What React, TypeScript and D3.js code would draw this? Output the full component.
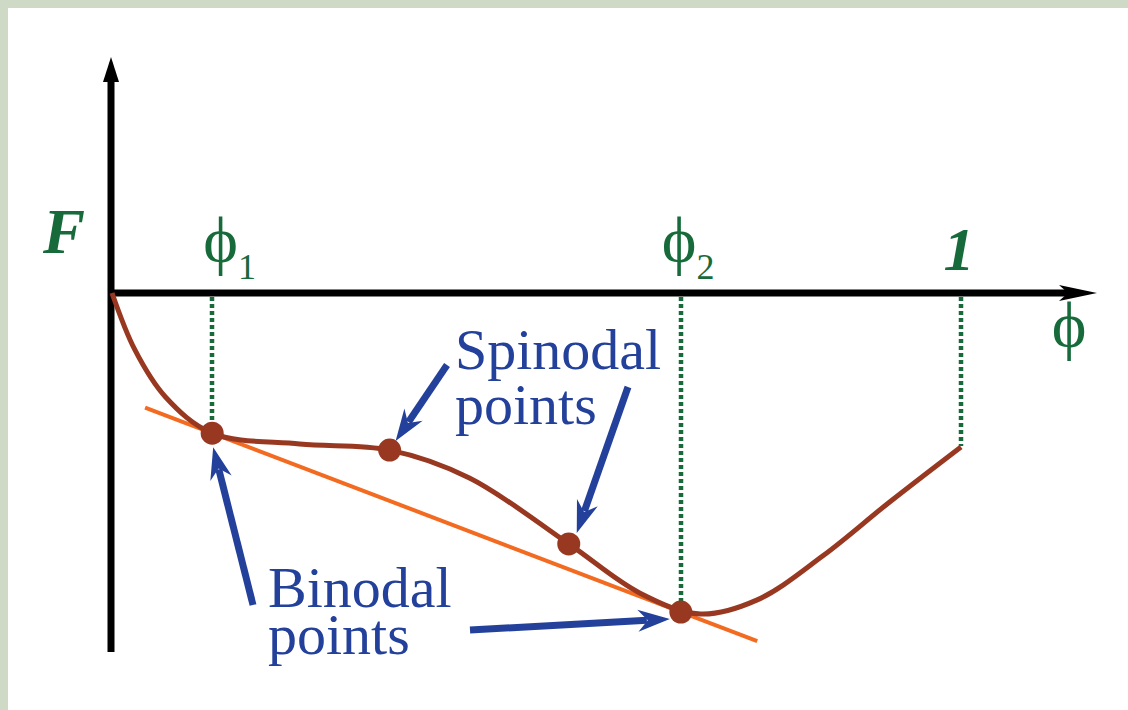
import React from "react";
import * as d3 from "d3";

// Free-energy curve F(φ) for a binary mixture
const curvePhi = [0, 0.027, 0.063, 0.118, 0.221, 0.327, 0.421, 0.538, 0.622, 0.693, 0.76, 0.837, 0.916, 1.0];
const curveF = [0, -0.178, -0.325, -0.438, -0.472, -0.491, -0.578, -0.784, -0.938, -1.003, -0.959, -0.822, -0.653, -0.481];

// Binodal (common tangent) and spinodal (inflection) compositions
const binodalPhi = [0.118, 0.67];
const binodalF = [-0.438, -0.997];
const spinodalPhi = [0.327, 0.538];
const spinodalF = [-0.491, -0.784];

// Extent of the drawn common tangent
const tangentPhi = [0.039, 0.76];

// Labelled compositions on the φ axis
const tickPhi = [0.118, 0.67, 1.0];
const tickF = [-0.438, -0.997, -0.481];
const tickSub = ["1", "2", null];
const tickDx = [-9, -19, -2];

const W = 1128;
const H = 710;

const GREEN = "#176b3b";
const BLUE = "#23419a";
const BROWN = "#983821";
const ORANGE = "#f36b21";
const SERIF = "'Liberation Serif', 'Times New Roman', serif";

const x = d3.scaleLinear().domain([0, 1]).range([112, 961]);
const y = d3.scaleLinear().domain([0, -1]).range([293, 613]);

function arrowPath(x1: number, y1: number, x2: number, y2: number) {
  const dx = x2 - x1;
  const dy = y2 - y1;
  const len = Math.hypot(dx, dy);
  const ux = dx / len;
  const uy = dy / len;
  const px = -uy;
  const py = ux;
  const L = 32;
  const hw = 11;
  const notch = 22;
  const pts = [
    [x2, y2],
    [x2 - ux * L + px * hw, y2 - uy * L + py * hw],
    [x2 - ux * notch, y2 - uy * notch],
    [x2 - ux * L - px * hw, y2 - uy * L - py * hw],
  ];
  return {
    shaftEnd: [x2 - ux * (notch + 1), y2 - uy * (notch + 1)],
    head: "M" + pts.map((p) => p.join(",")).join("L") + "Z",
  };
}

export default function App() {
  const curveData = curvePhi.map((p, i) => [p, curveF[i]] as [number, number]);
  const line = d3
    .line<[number, number]>()
    .x((d) => x(d[0]))
    .y((d) => y(d[1]))
    .curve(d3.curveCatmullRom.alpha(0.5));

  const slope = (binodalF[1] - binodalF[0]) / (binodalPhi[1] - binodalPhi[0]);
  const tangentAt = (p: number) => binodalF[0] + slope * (p - binodalPhi[0]);

  const r = 11.5;

  // Annotation arrows: from beside a label to a marked point (with a small nudge)
  const arrows = [
    { from: [447, 365], to: [spinodalPhi[0], spinodalF[0]], nudge: [6, -9] },
    { from: [628, 387], to: [spinodalPhi[1], spinodalF[1]], nudge: [8, -11] },
    { from: [253, 605], to: [binodalPhi[0], binodalF[0]], nudge: [1, 14] },
    { from: [470, 630], to: [binodalPhi[1], binodalF[1]], nudge: [-11, 7] },
  ];

  return (
    <svg
      width={W}
      height={H}
      style={{ position: "absolute", left: 0, top: 0, display: "block" }}
    >
      <rect x={0} y={0} width={W} height={H} fill="#cedac5" />
      <rect x={8} y={8} width={W - 8} height={H - 8} fill="#ffffff" />

      {/* dotted drop lines */}
      {tickPhi.map((p, i) => (
        <line
          key={"d" + i}
          x1={Math.round(x(p))}
          x2={Math.round(x(p))}
          y1={y(0) + 4}
          y2={y(tickF[i]) - (i < 2 ? 4 : 1)}
          stroke={GREEN}
          strokeWidth={4.5}
          strokeDasharray="4 3"
        />
      ))}

      {/* axes */}
      <line x1={111} x2={111} y1={652} y2={75} stroke="#000" strokeWidth={7} />
      <path d="M111,57 L119,82 L103,82 Z" fill="#000" />
      <line x1={108} x2={1070} y1={y(0)} y2={y(0)} stroke="#000" strokeWidth={7} />
      <path d={`M1097,${y(0)} L1059,${y(0) - 8} L1068,${y(0)} L1059,${y(0) + 8} Z`} fill="#000" />

      {/* common tangent */}
      <line
        x1={x(tangentPhi[0])}
        y1={y(tangentAt(tangentPhi[0]))}
        x2={x(tangentPhi[1])}
        y2={y(tangentAt(tangentPhi[1]))}
        stroke={ORANGE}
        strokeWidth={4}
      />

      {/* free-energy curve */}
      <path d={line(curveData) || ""} fill="none" stroke={BROWN} strokeWidth={5} />

      {/* points */}
      {binodalPhi.map((p, i) => (
        <circle key={"b" + i} cx={x(p)} cy={y(binodalF[i])} r={r} fill={BROWN} />
      ))}
      {spinodalPhi.map((p, i) => (
        <circle key={"s" + i} cx={x(p)} cy={y(spinodalF[i])} r={r} fill={BROWN} />
      ))}

      {/* arrows */}
      {arrows.map((a, i) => {
        const tx = x(a.to[0]) + a.nudge[0];
        const ty = y(a.to[1]) + a.nudge[1];
        const ap = arrowPath(a.from[0], a.from[1], tx, ty);
        return (
          <g key={"a" + i}>
            <line
              x1={a.from[0]}
              y1={a.from[1]}
              x2={ap.shaftEnd[0]}
              y2={ap.shaftEnd[1]}
              stroke={BLUE}
              strokeWidth={7}
            />
            <path d={ap.head} fill={BLUE} />
          </g>
        );
      })}

      {/* axis labels */}
      <text
        x={43}
        y={253}
        fill={GREEN}
        fontFamily={SERIF}
        fontWeight="bold"
        fontStyle="italic"
        fontSize={63}
      >
        F
      </text>
      <text x={1069} y={347} fill={GREEN} fontFamily={SERIF} fontSize={66} textAnchor="middle">
        ϕ
      </text>

      {/* composition labels */}
      {tickPhi.map((p, i) =>
        tickSub[i] ? (
          <text key={"t" + i} x={x(p) + tickDx[i]} y={262} fill={GREEN} fontFamily={SERIF} fontSize={66}>
            ϕ
            <tspan fontSize={36} dy={17}>
              {tickSub[i]}
            </tspan>
          </text>
        ) : (
          <text
            key={"t" + i}
            x={x(p) + tickDx[i]}
            y={270}
            fill={GREEN}
            fontFamily={SERIF}
            fontWeight="bold"
            fontStyle="italic"
            fontSize={62}
            textAnchor="middle"
          >
            1
          </text>
        )
      )}

      {/* annotations */}
      <text x={455} y={369} fill={BLUE} fontFamily={SERIF} fontSize={58}>
        Spinodal
      </text>
      <text x={455} y={424} fill={BLUE} fontFamily={SERIF} fontSize={58}>
        points
      </text>
      <text x={268} y={607} fill={BLUE} fontFamily={SERIF} fontSize={58}>
        Binodal
      </text>
      <text x={268} y={654} fill={BLUE} fontFamily={SERIF} fontSize={58}>
        points
      </text>
    </svg>
  );
}
